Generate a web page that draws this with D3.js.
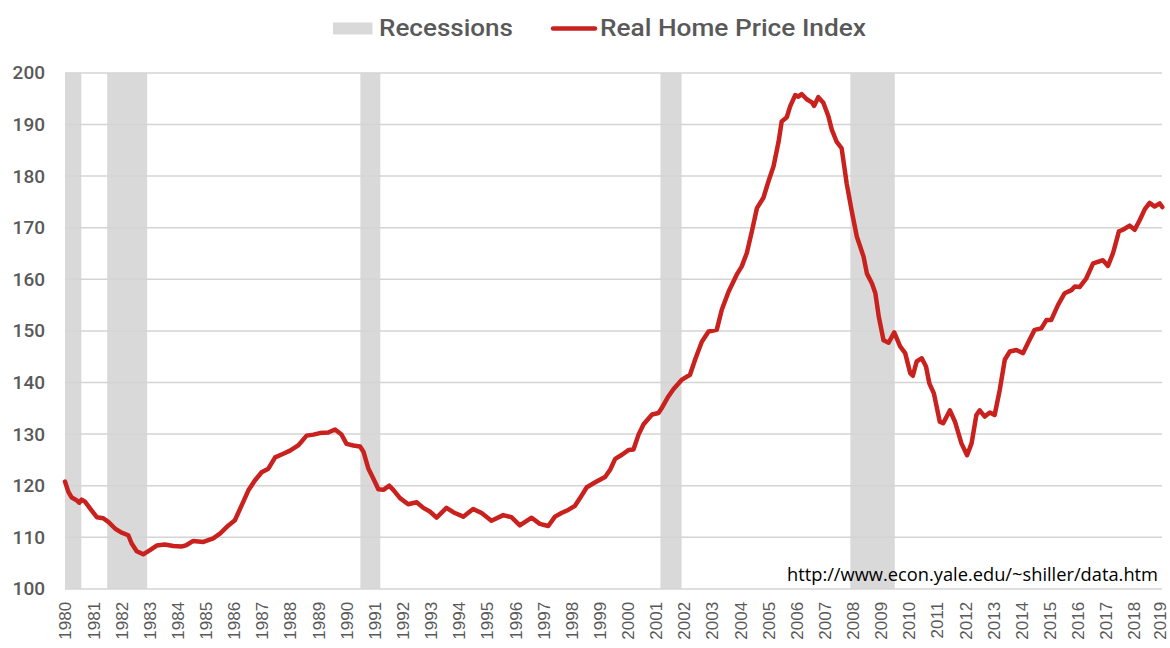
<!DOCTYPE html>
<html><head><meta charset="utf-8">
<script src="https://cdn.jsdelivr.net/npm/d3@7"></script>
<style>body{margin:0;background:#fff}svg{display:block}</style>
</head><body>
<svg id="c" width="1170" height="648"></svg>
<script>
// Data (decimal year, real home price index)
const years = [1980.0,1980.12,1980.24,1980.41,1980.51,1980.59,1980.71,1980.89,1981.13,1981.36,1981.54,1981.78,1982.01,1982.25,1982.37,1982.55,1982.78,1983.02,1983.26,1983.55,1983.85,1984.14,1984.32,1984.56,1984.92,1985.27,1985.51,1985.81,1986.04,1986.28,1986.52,1986.75,1986.99,1987.23,1987.47,1987.76,1988.0,1988.29,1988.59,1988.83,1989.06,1989.36,1989.6,1989.83,1990.01,1990.25,1990.49,1990.61,1990.78,1990.96,1991.14,1991.32,1991.53,1991.67,1991.91,1992.2,1992.5,1992.74,1992.97,1993.21,1993.56,1993.86,1994.16,1994.51,1994.81,1995.16,1995.58,1995.87,1996.17,1996.59,1996.88,1997.18,1997.42,1997.65,1997.89,1998.13,1998.31,1998.55,1998.9,1999.2,1999.38,1999.56,1999.8,2000.03,2000.21,2000.39,2000.57,2000.87,2001.1,2001.21,2001.45,2001.63,2001.92,2002.22,2002.4,2002.64,2002.88,2003.17,2003.35,2003.59,2003.88,2004.06,2004.24,2004.42,2004.6,2004.83,2005.01,2005.19,2005.37,2005.48,2005.66,2005.78,2005.96,2006.07,2006.19,2006.37,2006.55,2006.63,2006.78,2006.96,2007.14,2007.26,2007.43,2007.61,2007.79,2007.97,2008.15,2008.39,2008.51,2008.69,2008.81,2008.93,2009.1,2009.28,2009.48,2009.69,2009.87,2010.05,2010.14,2010.28,2010.46,2010.61,2010.73,2010.89,2011.1,2011.22,2011.46,2011.64,2011.87,2012.07,2012.23,2012.4,2012.52,2012.7,2012.88,2013.05,2013.23,2013.41,2013.59,2013.82,2014.06,2014.23,2014.47,2014.71,2014.89,2015.06,2015.3,2015.54,2015.78,2015.9,2016.07,2016.31,2016.55,2016.79,2016.9,2017.08,2017.26,2017.47,2017.61,2017.85,2018.03,2018.21,2018.39,2018.56,2018.74,2018.92,2019.01];
const values = [120.8,118.8,117.7,117.2,116.7,117.3,116.9,115.6,113.9,113.7,113.0,111.7,110.9,110.4,108.8,107.3,106.7,107.5,108.4,108.6,108.3,108.2,108.5,109.3,109.1,109.8,110.7,112.3,113.3,116.2,119.1,121.0,122.6,123.3,125.5,126.2,126.8,127.8,129.7,129.9,130.2,130.3,130.9,129.9,128.1,127.8,127.6,126.6,123.4,121.4,119.3,119.2,120.0,119.2,117.6,116.4,116.8,115.7,115.0,113.8,115.7,114.7,114.0,115.5,114.7,113.2,114.3,113.9,112.3,113.8,112.6,112.2,114.0,114.7,115.3,116.1,117.6,119.7,120.8,121.7,123.1,125.2,126.0,126.9,127.0,129.9,131.9,133.8,134.1,135.0,137.3,138.7,140.5,141.5,144.4,147.9,149.9,150.2,154.1,157.6,160.9,162.5,165.1,169.3,173.8,175.8,179.0,181.9,186.7,190.6,191.4,193.5,195.7,195.4,195.9,194.9,194.3,193.6,195.3,194.2,191.6,189.0,186.7,185.4,178.6,173.2,168.3,164.4,161.1,159.2,157.3,152.8,148.2,147.7,149.7,147.0,145.7,141.8,141.3,144.1,144.7,143.1,139.8,137.9,132.4,132.1,134.6,132.4,128.2,125.9,128.2,133.7,134.6,133.4,134.2,133.7,138.5,144.4,146.0,146.3,145.7,147.6,150.2,150.5,152.1,152.1,155.0,157.3,157.9,158.6,158.5,160.2,163.1,163.5,163.7,162.6,165.1,169.3,169.6,170.4,169.6,171.5,173.6,174.8,174.1,174.7,174.0];
// Recession periods (start, end in decimal years)
const recStart = [1980.0, 1981.5, 1990.5, 2001.17, 2007.92];
const recEnd   = [1980.58, 1982.92, 1991.21, 2001.92, 2009.5];
const yTicks = [100,110,120,130,140,150,160,170,180,190,200];
const xTickYears = d3.range(1980, 2020);
const seriesName = "Real Home Price Index";
const recName = "Recessions";
const sourceText = "http://www.econ.yale.edu/~shiller/data.htm";

const svg = d3.select("#c");
const L = 65, R = 1162, T = 72.9, B = 588.9;
const x = d3.scaleLinear().domain([1980, 2019]).range([L, R]);
const y = d3.scaleLinear().domain([100, 200]).range([B, T]);

// recessions
svg.append("g").selectAll("rect").data(recStart).join("rect")
  .attr("x", (d) => x(d)).attr("width", (d, i) => x(recEnd[i]) - x(d))
  .attr("y", T).attr("height", B - T).attr("fill", "#d9d9d9");

// gridlines
svg.append("g").selectAll("line").data(yTicks).join("line")
  .attr("x1", L).attr("x2", R).attr("y1", d => y(d)).attr("y2", d => y(d))
  .attr("stroke", "#d4d4d4").attr("stroke-width", 1.5);

// y axis labels
const ya = svg.append("g").attr("transform", `translate(${L},0)`)
  .call(d3.axisLeft(y).tickValues(yTicks).tickSize(0).tickPadding(20));
ya.select(".domain").remove();
ya.selectAll("text").attr("font-family", "Roboto, sans-serif").attr("font-weight", 500)
  .attr("font-size", 19).attr("fill", "#595959");

// x axis labels
const xa = svg.append("g").attr("transform", `translate(0,${B})`)
  .call(d3.axisBottom(x).tickValues(xTickYears).tickFormat(d3.format("d")).tickSize(0));
xa.select(".domain").remove();
xa.selectAll("text").attr("font-family", "Liberation Sans, Arial, sans-serif")
  .attr("font-size", 17).attr("fill", "#595959")
  .attr("transform", "rotate(-90)").attr("text-anchor", "end")
  .attr("x", -13).attr("y", d => d === 2019 ? -2.5 : 0).attr("dy", "0.35em");

// line
const line = d3.line().x((d, i) => x(years[i])).y(d => y(d)).curve(d3.curveLinear);
svg.append("path").datum(values).attr("d", line)
  .attr("fill", "none").attr("stroke", "#c9211e").attr("stroke-width", 4.5)
  .attr("stroke-linejoin", "round").attr("stroke-linecap", "round");

// source
svg.append("text").attr("x", 787).attr("y", 581)
  .attr("font-family", "Open Sans, sans-serif").attr("font-size", 18)
  .attr("textLength", 371).attr("lengthAdjust", "spacingAndGlyphs")
  .attr("fill", "#000").text(sourceText);

// legend
const lg = svg.append("g");
lg.append("rect").attr("x", 333).attr("y", 22.5).attr("width", 39.5).attr("height", 12).attr("fill", "#d9d9d9");
lg.append("text").attr("x", 379).attr("y", 36).attr("textLength", 134).text(recName);
lg.append("line").attr("x1", 553).attr("x2", 595).attr("y1", 28.4).attr("y2", 28.4)
  .attr("stroke", "#c9211e").attr("stroke-width", 4.5).attr("stroke-linecap", "round");
lg.append("text").attr("x", 600).attr("y", 36).attr("textLength", 266).text(seriesName);
lg.selectAll("text").attr("font-family", "Roboto, sans-serif").attr("font-weight", 500)
  .attr("font-size", 23.5).attr("fill", "#595959").attr("lengthAdjust", "spacingAndGlyphs");
</script>
</body></html>
